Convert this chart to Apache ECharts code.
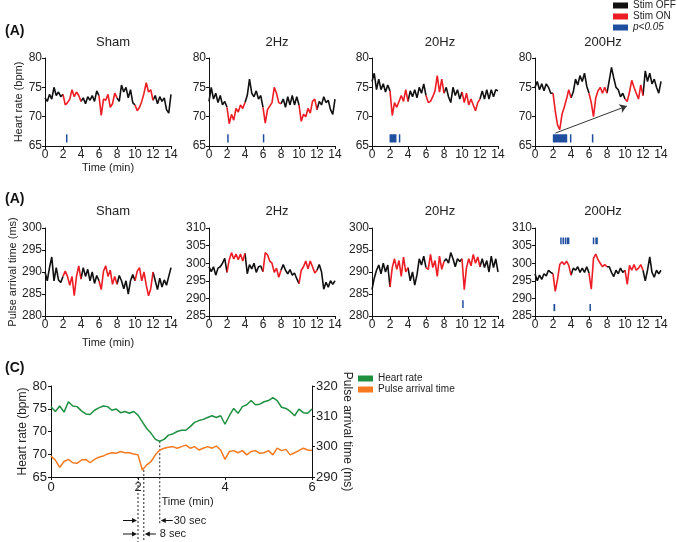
<!DOCTYPE html>
<html>
<head>
<meta charset="utf-8">
<script src="https://cdn.jsdelivr.net/npm/echarts@6/dist/echarts.min.js"></script>
<style>
  html, body { margin: 0; padding: 0; background: #fff; }
  #chart { width: 677px; height: 542px; }
</style>
</head>
<body>
<div id="chart"></div>
<script>
// recordings are sampled every 0.25 min over 14 min
const STEP = 0.25;
const stimOnPeriods = [[2, 4], [6, 8], [10, 12]];
const panelTitles = ['Sham', '2Hz', '20Hz', '200Hz'];

// heart rate (bpm)
const hrSham = [73.2,72.6,73.8,73.0,75.0,73.6,74.2,73.4,73.8,72.0,72.4,73.0,74.6,73.4,74.2,73.6,72.6,73.2,72.2,73.4,72.8,73.6,72.6,74.4,73.6,70.2,73.0,72.8,73.8,71.6,72.2,74.0,73.2,72.6,75.4,74.2,75.0,73.2,74.6,72.4,72.0,71.0,71.6,72.6,74.0,75.8,74.2,74.6,72.8,73.6,72.2,73.4,72.6,73.2,71.2,70.6,73.8];
const hr2Hz = [72.6,75.0,73.0,74.0,72.4,73.6,72.0,72.6,71.6,68.8,70.4,69.4,71.4,70.8,72.0,71.4,72.4,73.6,76.4,74.0,73.4,74.4,73.0,73.6,71.6,68.9,71.2,71.8,72.4,75.0,74.0,72.4,72.2,73.0,71.6,73.4,72.0,73.6,72.0,73.4,72.0,69.2,70.4,70.0,71.4,70.6,72.6,73.0,71.2,72.6,72.0,73.4,72.4,72.8,71.2,70.4,73.0];
const hr20Hz = [76.0,77.4,74.6,76.4,74.6,75.6,74.2,75.4,74.4,70.2,72.4,71.6,72.6,73.6,72.6,74.6,72.6,74.4,73.4,74.6,73.2,75.0,74.0,75.6,73.6,72.4,72.6,73.4,74.4,77.0,74.2,76.4,74.0,75.0,73.4,72.4,75.0,73.6,74.6,73.0,74.2,72.4,74.0,72.0,73.0,72.0,71.0,72.4,73.0,74.4,73.0,74.6,73.0,74.6,73.4,74.6,74.4];
const hr200Hz = [75.0,76.0,74.6,75.6,74.4,75.6,75.0,74.0,74.0,71.0,68.6,67.8,70.4,71.6,73.0,74.6,73.2,74.2,76.4,75.4,77.0,76.0,77.4,75.2,74.0,72.4,70.0,73.2,74.4,75.0,74.0,75.0,74.0,76.2,78.4,76.6,75.0,74.6,73.4,74.0,73.0,72.6,74.2,76.2,75.0,74.0,73.0,75.4,73.6,77.8,76.0,77.4,75.6,76.4,75.0,74.0,76.0];

// pulse arrival time (ms)
const patSham = [290.0,288.0,291.0,293.4,288.0,291.0,288.2,287.6,289.0,290.2,289.0,287.0,289.0,284.6,289.0,291.4,288.4,291.0,289.0,290.6,288.0,290.0,287.4,289.2,288.0,286.0,290.2,291.4,289.0,290.4,287.2,289.0,287.2,289.2,288.0,286.2,288.0,285.0,288.0,289.4,288.0,290.2,291.0,288.0,290.0,287.0,284.6,286.2,290.0,288.0,286.0,288.6,286.6,288.2,287.0,289.0,291.0];
const pat2Hz = [299.0,297.6,299.0,296.6,298.6,299.0,300.0,301.4,297.4,301.0,303.0,301.2,302.6,301.0,302.6,300.6,302.8,297.0,299.6,298.4,300.0,297.4,299.0,299.2,297.6,303.0,302.4,300.6,300.0,297.4,298.6,296.0,298.0,299.6,298.0,297.0,298.2,296.6,297.2,295.6,294.2,298.0,299.0,300.6,298.4,300.6,299.0,297.2,298.0,299.6,297.6,292.6,294.6,293.2,295.0,294.0,295.0];
const pat20Hz = [286.0,288.6,290.4,291.6,289.6,292.0,290.0,291.6,286.6,291.0,293.0,290.6,292.6,289.0,293.4,290.0,291.0,288.0,290.0,287.0,289.4,293.0,291.6,293.6,291.0,290.6,294.0,291.0,292.6,289.0,293.6,290.6,292.4,293.0,292.0,294.4,293.0,291.2,293.0,292.4,293.0,286.0,291.0,293.0,291.4,294.0,292.0,293.4,291.2,293.0,291.0,292.6,290.0,293.6,291.0,293.0,290.0];
const pat200Hz = [297.0,295.0,296.6,295.4,297.0,296.4,298.0,297.4,297.0,292.0,295.4,299.6,300.4,299.6,300.6,299.4,296.6,298.6,298.0,299.0,297.4,298.6,297.4,299.0,297.2,292.6,301.4,302.6,301.0,300.0,299.0,299.6,299.0,299.0,297.4,296.2,298.0,297.0,298.6,297.4,298.0,294.0,299.4,298.0,299.6,298.0,298.6,299.6,298.0,295.0,298.0,301.8,297.4,296.0,298.0,297.0,298.0];

const hrTraces = [hrSham, hr2Hz, hr20Hz, hr200Hz];
const patTraces = [patSham, pat2Hz, pat20Hz, pat200Hz];
const hrRanges = [[65, 80], [65, 80], [65, 80], [65, 80]];
const patRanges = [[280, 300], [285, 310], [280, 300], [285, 310]];

// p<0.05 marks: [start min, end min, low, high]
const sigHR = [
  [[2.33, 2.43, 65.6, 67.0]],
  [[2.02, 2.12, 65.6, 67.0], [5.98, 6.12, 65.6, 67.0]],
  [[1.95, 2.72, 65.6, 67.0], [2.98, 3.06, 65.6, 67.0]],
  [[1.98, 3.58, 65.6, 67.0], [3.88, 3.97, 65.6, 67.0], [6.32, 6.42, 65.6, 67.0]]
];
const sigPAT = [
  [],
  [],
  [[10.02, 10.16, 281.8, 283.6]],
  [[2.8, 2.9, 305.4, 307.3], [3.05, 3.15, 305.4, 307.3], [3.3, 3.42, 305.4, 307.3], [3.52, 3.82, 305.4, 307.3],
   [6.42, 6.5, 305.4, 307.3], [6.7, 6.98, 305.4, 307.3], [2.05, 2.25, 286.4, 288.4], [6.05, 6.15, 286.4, 288.4]]
];
// recovery trend arrow in the 200Hz heart-rate panel
const trendArrow = [[2.27, 67.2], [10.2, 71.8]];

// panel C: 6 min, one value every 0.1 min
const C_STEP = 0.1;
const cHeartRate = [76.6,75.8,76.7,75.7,77.4,76.7,76.6,75.9,75.4,75.3,76.0,76.4,76.7,76.6,76.0,76.2,75.6,75.8,75.5,75.8,75.2,74.1,73.0,72.2,71.2,70.9,71.2,71.9,72.1,72.5,72.7,72.7,73.3,74.0,74.3,74.5,74.8,75.1,74.8,75.1,73.7,75.1,76.3,75.5,76.6,76.9,77.6,76.9,77.0,77.4,77.6,78.1,77.6,76.5,76.3,75.8,75.1,76.2,75.6,75.5,76.2];
const cPulseArrival = [296.9,295.6,293.2,295.1,295.8,294.7,294.5,295.6,295.8,294.7,295.8,296.5,296.9,297.6,298.0,297.8,298.4,298.0,298.0,297.6,297.3,292.3,294.0,295.1,297.3,298.9,299.5,299.8,300.0,299.5,300.0,300.5,299.5,300.0,298.9,299.5,300.0,299.5,300.2,298.9,295.8,298.4,298.7,298.0,298.7,297.3,298.4,298.7,297.8,298.0,298.7,297.3,299.5,298.7,299.1,297.3,298.0,298.7,299.5,298.9,298.7];
// left axis of panel C is printed with these labels (bottom to top)
const cHrTickValues = [65, 68.75, 72.5, 76.25, 80];
const cHrTickLabels = ['65', '70', '70', '75', '80'];
// stim onset, PAT nadir (+8 s) and HR nadir (+30 s)
const cOnset = 2.0;
const cPatNadir = [2 + 8 / 60, 292.3];
const cHrNadir = [2.5, 70.9];

const BLACK = '#111111', RED = '#ee1c24', BLUE = '#1f4e9f', GREEN = '#1e9040', ORANGE = '#f47920';
const FONT = 'Liberation Sans, Arial, sans-serif';

const chart = echarts.init(document.getElementById('chart'), null, { renderer: 'canvas' });

function isOn(t, inclusive) {
  return stimOnPeriods.some(([a, b]) => inclusive ? (t >= a && t <= b) : (t > a && t < b));
}

function axisBase(fontSize, margin) {
  return {
    axisLine: { show: true, lineStyle: { color: BLACK, width: 1 } },
    axisTick: { show: true, length: 3, lineStyle: { color: BLACK } },
    axisLabel: { color: '#222', fontSize, margin, fontFamily: FONT },
    splitLine: { show: false }
  };
}

function renderSig(params, api) {
  const p0 = api.coord([api.value(0), api.value(3)]);
  const p1 = api.coord([api.value(1), api.value(2)]);
  return {
    type: 'rect',
    shape: { x: p0[0], y: p0[1], width: Math.max(p1[0] - p0[0], 1.5), height: p1[1] - p0[1] },
    style: { fill: BLUE }
  };
}

const lefts = [45, 209, 372, 535];
const PW = 126, PH = 88;
const rows = [
  { top: 58, traces: hrTraces, ranges: hrRanges, sig: sigHR, yName: 'Heart rate (bpm)', yNameGap: 20, xNameGap: 16, titleTop: 31, tagTop: 19 },
  { top: 228, traces: patTraces, ranges: patRanges, sig: sigPAT, yName: 'Pulse arrival time (ms)', yNameGap: 24, xNameGap: 21, titleTop: 200, tagTop: 187 }
];

const grids = [], xAxes = [], yAxes = [], series = [], titles = [];

rows.forEach((row, r) => {
  titles.push({ text: '(A)', left: 0, top: row.tagTop, textStyle: { fontSize: 14, fontWeight: 'bold', color: '#111', fontFamily: FONT } });
  lefts.forEach((left, p) => {
    const gi = r * 4 + p;
    grids.push({ left, top: row.top, width: PW, height: PH });
    titles.push({ text: panelTitles[p], left: left + PW / 2, top: row.titleTop, textAlign: 'center',
      textStyle: { fontSize: 13, fontWeight: 'normal', color: '#222', fontFamily: FONT } });
    xAxes.push(Object.assign(axisBase(12, 3), {
      type: 'value', gridIndex: gi, min: 0, max: 14, interval: 2,
      name: p === 0 ? 'Time (min)' : '', nameLocation: 'middle', nameGap: row.xNameGap,
      nameTextStyle: { fontSize: 11, color: '#222', fontFamily: FONT }
    }));
    yAxes.push(Object.assign(axisBase(12, 3), {
      type: 'value', gridIndex: gi, min: row.ranges[p][0], max: row.ranges[p][1], interval: 5,
      name: p === 0 ? row.yName : '', nameLocation: 'middle', nameGap: row.yNameGap,
      nameTextStyle: { fontSize: 11, color: '#222', fontFamily: FONT }
    }));
    const vals = row.traces[p];
    const off = vals.map((v, i) => [i * STEP, isOn(i * STEP, false) ? null : v]);
    const on = vals.map((v, i) => [i * STEP, isOn(i * STEP, true) ? v : null]);
    series.push({ name: 'Stim OFF', type: 'line', xAxisIndex: gi, yAxisIndex: gi, data: off, showSymbol: false,
      symbol: 'none', lineStyle: { color: BLACK, width: 1.6 }, itemStyle: { color: BLACK } });
    const onSeries = { name: 'Stim ON', type: 'line', xAxisIndex: gi, yAxisIndex: gi, data: on, showSymbol: false,
      symbol: 'none', lineStyle: { color: RED, width: 1.6 }, itemStyle: { color: RED } };
    if (r === 0 && p === 3) {
      onSeries.markLine = {
        silent: true, symbol: ['none', 'arrow'], symbolSize: 7, label: { show: false },
        lineStyle: { color: '#333', width: 1, type: 'solid' },
        data: [[{ coord: trendArrow[0] }, { coord: trendArrow[1] }]]
      };
    }
    series.push(onSeries);
    if (row.sig[p].length) {
      series.push({ name: 'p<0.05', type: 'custom', xAxisIndex: gi, yAxisIndex: gi, renderItem: renderSig,
        itemStyle: { color: BLUE }, encode: { x: [0, 1], y: [2, 3] }, data: row.sig[p] });
    }
  });
});

// panel C
titles.push({ text: '(C)', left: 0, top: 356, textStyle: { fontSize: 14, fontWeight: 'bold', color: '#111', fontFamily: FONT } });
grids.push({ left: 51, top: 386, width: 261, height: 91 });
xAxes.push(Object.assign(axisBase(13, 4), {
  type: 'value', gridIndex: 8, min: 0, max: 6, interval: 2,
  name: 'Time (min)', nameLocation: 'middle', nameGap: 19,
  nameTextStyle: { fontSize: 11, color: '#222', fontFamily: FONT, padding: [0, 0, 0, 12] }
}));
const cLeft = axisBase(13, 4);
cLeft.axisLabel.customValues = cHrTickValues;
cLeft.axisLabel.formatter = v => cHrTickLabels[cHrTickValues.indexOf(v)];
cLeft.axisTick.customValues = cHrTickValues;
yAxes.push(Object.assign(cLeft, {
  type: 'value', gridIndex: 8, min: 65, max: 80,
  name: 'Heart rate (bpm)', nameLocation: 'middle', nameGap: 21,
  nameTextStyle: { fontSize: 12, color: '#222', fontFamily: FONT }
}));
yAxes.push(Object.assign(axisBase(13, 4), {
  type: 'value', gridIndex: 8, position: 'right', min: 290, max: 320, interval: 10,
  name: 'Pulse arrival time (ms)', nameLocation: 'middle', nameGap: 26, nameRotate: -90,
  nameTextStyle: { fontSize: 12, color: '#222', fontFamily: FONT }
}));
series.push({ name: 'Heart rate', type: 'line', xAxisIndex: 8, yAxisIndex: 8, symbol: 'none',
  data: cHeartRate.map((v, i) => [i * C_STEP, v]), lineStyle: { color: GREEN, width: 1.5 }, itemStyle: { color: GREEN } });
series.push({ name: 'Pulse arrival time', type: 'line', xAxisIndex: 8, yAxisIndex: 9, symbol: 'none',
  data: cPulseArrival.map((v, i) => [i * C_STEP, v]), lineStyle: { color: ORANGE, width: 1.5 }, itemStyle: { color: ORANGE } });

const legendText = { fontSize: 10, color: '#222', lineHeight: 11, fontFamily: FONT };
chart.setOption({
  animation: false,
  textStyle: { fontFamily: FONT },
  title: titles,
  legend: [
    { data: ['Stim OFF', 'Stim ON', { name: 'p<0.05', textStyle: { fontStyle: 'italic' } }],
      orient: 'vertical', left: 613, top: 0, padding: 0, itemGap: 0, itemWidth: 15, itemHeight: 6,
      icon: 'rect', selectedMode: false, textStyle: legendText },
    { data: ['Heart rate', 'Pulse arrival time'],
      orient: 'vertical', left: 358, top: 373, padding: 0, itemGap: 0, itemWidth: 15, itemHeight: 6,
      icon: 'rect', selectedMode: false, textStyle: legendText }
  ],
  grid: grids,
  xAxis: xAxes,
  yAxis: yAxes,
  series
});

// timing annotations below panel C
const px = t => chart.convertToPixel({ xAxisIndex: 8 }, t);
const pyHR = v => chart.convertToPixel({ yAxisIndex: 8 }, v);
const pyPAT = v => chart.convertToPixel({ yAxisIndex: 9 }, v);
const xOn = px(cOnset), xPat = px(cPatNadir[0]), xHr = px(cHrNadir[0]);
const dotted = { stroke: '#222', lineWidth: 1, lineDash: [2, 2] };
const rowA = 520.5, rowB = 534;

function arrow(from, to, y) {
  const dir = to > from ? 1 : -1;
  return [
    { type: 'line', shape: { x1: from, y1: y, x2: to - dir * 4, y2: y }, style: { stroke: '#111', lineWidth: 1 } },
    { type: 'polygon', shape: { points: [[to, y], [to - dir * 5, y - 2.5], [to - dir * 5, y + 2.5]] }, style: { fill: '#111' } }
  ];
}
function label(text, x, y) {
  return { type: 'text', style: { text, x, y, fill: '#222', fontSize: 11, fontFamily: FONT, verticalAlign: 'middle' } };
}

chart.setOption({
  graphic: [
    { type: 'line', shape: { x1: xOn, y1: pyHR(65), x2: xOn, y2: 542 }, style: dotted },
    { type: 'line', shape: { x1: xPat, y1: pyPAT(cPatNadir[1]), x2: xPat, y2: 542 }, style: dotted },
    { type: 'line', shape: { x1: xHr, y1: pyHR(cHrNadir[1]), x2: xHr, y2: 525 }, style: dotted },
    ...arrow(xOn - 15, xOn - 1, rowA),
    ...arrow(xHr + 13, xHr + 1, rowA),
    label('30 sec', xHr + 14, rowA),
    ...arrow(xOn - 15, xOn - 1, rowB),
    ...arrow(xPat + 12, xPat + 1, rowB),
    label('8 sec', xPat + 16, rowB)
  ]
});
</script>
</body>
</html>
